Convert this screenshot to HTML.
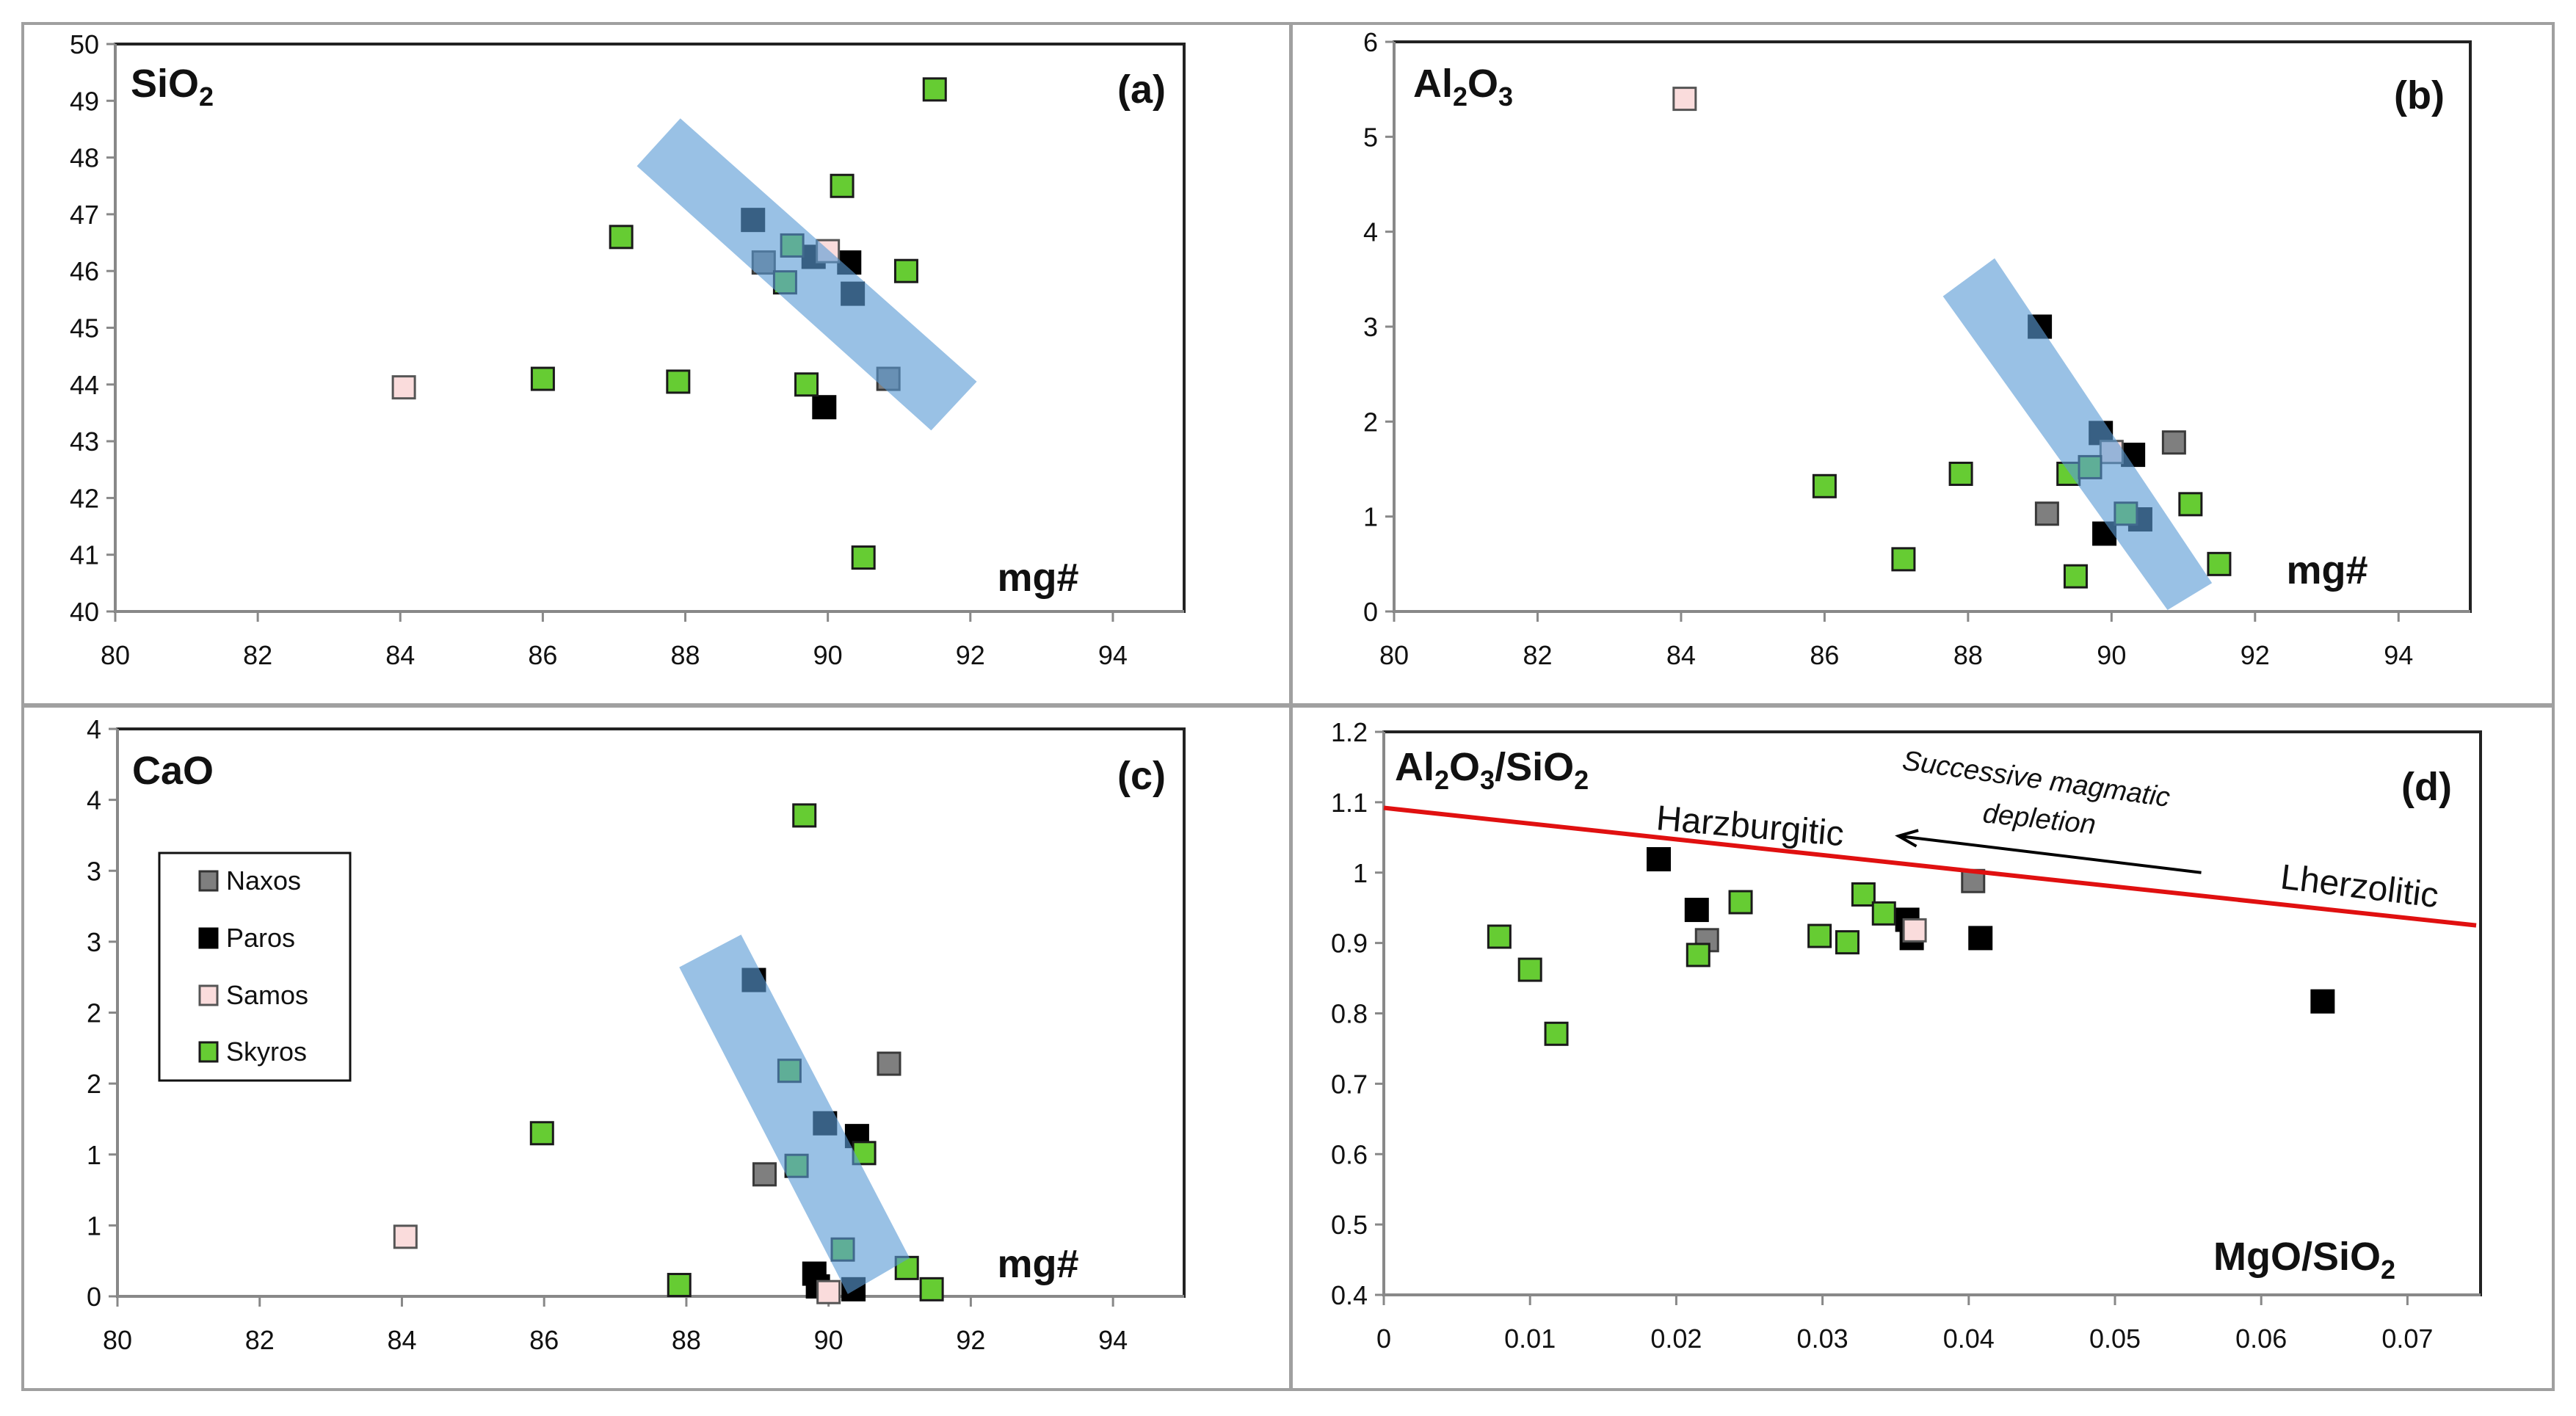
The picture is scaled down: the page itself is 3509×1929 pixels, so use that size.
<!DOCTYPE html>
<html><head><meta charset="utf-8"><style>
html,body{margin:0;padding:0;background:#fff;}
svg{display:block;font-family:"Liberation Sans Narrow","Liberation Sans",sans-serif;}
</style></head><body>
<svg id="fig" width="3509" height="1929" viewBox="0 0 3509 1929" xmlns="http://www.w3.org/2000/svg">
<rect x="0" y="0" width="3509" height="1929" fill="#fff"/>
<rect x="31" y="32" width="1727" height="928" fill="none" stroke="#a0a0a0" stroke-width="4"/>
<rect x="1759" y="32" width="1719" height="928" fill="none" stroke="#a0a0a0" stroke-width="4"/>
<rect x="31" y="962" width="1727" height="931" fill="none" stroke="#a0a0a0" stroke-width="4"/>
<rect x="1759" y="962" width="1719" height="931" fill="none" stroke="#a0a0a0" stroke-width="4"/>
</svg>
<script>
// Panel (a) SiO2 vs mg#
const aNaxosX=[89.1,90.85], aNaxosY=[46.15,44.1];
const aParosX=[90.3,89.95,88.95,89.8,90.35], aParosY=[46.15,43.6,46.9,46.25,45.6];
const aSamosX=[84.05,90.0], aSamosY=[43.95,46.35];
const aSkyrosX=[91.5,90.2,87.1,91.1,86.0,87.9,89.7,90.5,89.5,89.4], aSkyrosY=[49.2,47.5,46.6,46.0,44.1,44.05,44.0,40.95,46.45,45.8];
const aBandX=[87.32,87.93,92.09,91.45], aBandY=[47.85,48.69,44.05,43.19];
const aXTicks=[80,82,84,86,88,90,92,94];
const aYTicks=[40,41,42,43,44,45,46,47,48,49,50];
const aYLabels=["40","41","42","43","44","45","46","47","48","49","50"];
// Panel (b) Al2O3 vs mg#
const bNaxosX=[90.87,89.1], bNaxosY=[1.78,1.03];
const bParosX=[89.9,90.3,89.0,89.85,90.4], bParosY=[0.82,1.65,3.0,1.88,0.97];
const bSamosX=[84.05,90.0], bSamosY=[5.4,1.68];
const bSkyrosX=[86.0,87.9,87.1,89.4,89.5,91.1,91.5,89.7,90.2], bSkyrosY=[1.32,1.45,0.55,1.45,0.37,1.13,0.5,1.52,1.03];
const bBandX=[87.65,88.37,91.40,90.78], bBandY=[3.32,3.72,0.30,0.015];
const bYTicks=[0,1,2,3,4,5,6];
const bYLabels=["0","1","2","3","4","5","6"];
// Panel (c) CaO vs mg#
const cNaxosX=[90.85,89.1], cNaxosY=[1.64,0.86];
const cParosX=[89.8,89.85,90.4,88.95,89.95,90.35], cParosY=[0.16,0.07,1.13,2.23,1.22,0.05];
const cSamosX=[84.05,90.0], cSamosY=[0.42,0.03];
const cSkyrosX=[89.66,85.97,87.9,90.5,91.1,91.45,89.45,89.55,90.2], cSkyrosY=[3.39,1.15,0.08,1.01,0.2,0.05,1.59,0.92,0.33];
const cBandX=[87.9,88.77,91.14,90.27], cBandY=[2.32,2.55,0.27,0.016];
const cYTicks=[0,0.5,1,1.5,2,2.5,3,3.5,4];
const cYLabels=["0","1","1","2","2","3","3","4","4"];
// Panel (d) Al2O3/SiO2 vs MgO/SiO2
const dNaxosX=[0.0221,0.0403], dNaxosY=[0.904,0.988];
const dParosX=[0.0188,0.0214,0.0358,0.0361,0.0408,0.0642], dParosY=[1.019,0.947,0.933,0.907,0.907,0.817];
const dSamosX=[0.0363], dSamosY=[0.918];
const dSkyrosX=[0.0079,0.0100,0.0118,0.0215,0.0244,0.0298,0.0317,0.0328,0.0342], dSkyrosY=[0.909,0.862,0.771,0.883,0.958,0.910,0.901,0.969,0.942];
const dLineX=[0,0.0747], dLineY=[1.092,0.925];
const dArrowX=[0.0559,0.0352], dArrowY=[1.0,1.052];
const dXTicks=[0,0.01,0.02,0.03,0.04,0.05,0.06,0.07];
const dXLabels=["0","0.01","0.02","0.03","0.04","0.05","0.06","0.07"];
const dYTicks=[0.4,0.5,0.6,0.7,0.8,0.9,1.0,1.1,1.2];
const dYLabels=["0.4","0.5","0.6","0.7","0.8","0.9","1","1.1","1.2"];

const NS="http://www.w3.org/2000/svg";
const svg=document.getElementById('fig');
function mk(tag,attrs,parent){const e=document.createElementNS(NS,tag);for(const k in attrs)e.setAttribute(k,attrs[k]);(parent||svg).appendChild(e);return e;}
function scale(d0,d1,p0,p1){return v=>p0+(v-d0)/(d1-d0)*(p1-p0);}

const COLORS={naxos:["#7f7f7f","#3a3a3a"],paros:["#000000","#000000"],samos:["#fadcdc","#555555"],skyros:["#66cc33","#1a1a1a"]};

function drawPanel(p){
  const g=mk('g',{});
  
  
  const sx=scale(p.xd[0],p.xd[1],p.L,p.R), sy=scale(p.yd[0],p.yd[1],p.B,p.T);
  const box=mk('rect',{x:p.L,y:p.T,width:p.R-p.L,height:p.B-p.T,fill:'none',stroke:'#222','stroke-width':4},g);
  
  
  const yax=mk('line',{x1:p.L,y1:p.T,x2:p.L,y2:p.B,stroke:'#888','stroke-width':4},g);
  
  
  const xax=mk('line',{x1:p.L,y1:p.B,x2:p.R,y2:p.B,stroke:'#888','stroke-width':4},g);
  
  
  p.yt.forEach((v,i)=>{const y=sy(v);
    mk('line',{x1:p.L-12,y1:y,x2:p.L,y2:y,stroke:'#888','stroke-width':3},g);
    const t=mk('text',{x:p.L-22,y:y+13,'text-anchor':'end','font-size':36,fill:'#111'},g);
    t.textContent=p.yl[i];
    
    });
  p.xt.forEach((v,i)=>{const x=sx(v);
    mk('line',{x1:x,y1:p.B,x2:x,y2:p.B+14,stroke:'#888','stroke-width':3},g);
    const t=mk('text',{x:x,y:p.B+72,'text-anchor':'middle','font-size':36,fill:'#111'},g);
    t.textContent=p.xl[i];
    
    });
  const ser=[['naxos',p.s.naxos],['paros',p.s.paros],['samos',p.s.samos],['skyros',p.s.skyros]];
  ser.forEach(([nm,[xs,ys]])=>{xs.forEach((xv,i)=>{
    const r=mk('rect',{x:sx(xv)-15,y:sy(ys[i])-15,width:30,height:30,fill:COLORS[nm][0],stroke:COLORS[nm][1],'stroke-width':3},g);
    
    });});
  if(p.band){const pts=p.band[0].map((xv,i)=>sx(xv)+','+sy(p.band[1][i])).join(' ');
    const b=mk('polygon',{points:pts,fill:'rgba(91,155,213,0.62)'},g);
    
    }
  return {sx,sy,g};
}

const mgTicks=aXTicks, mgLabels=aXTicks.map(String);
const pa=drawPanel({id:'panel-a',L:157,R:1613,T:60,B:833,xd:[80,95],yd:[40,50],xt:mgTicks,xl:mgLabels,yt:aYTicks,yl:aYLabels,
  s:{naxos:[aNaxosX,aNaxosY],paros:[aParosX,aParosY],samos:[aSamosX,aSamosY],skyros:[aSkyrosX,aSkyrosY]},band:[aBandX,aBandY]});
const pb=drawPanel({id:'panel-b',L:1899,R:3365,T:57,B:833,xd:[80,95],yd:[0,6],xt:mgTicks,xl:mgLabels,yt:bYTicks,yl:bYLabels,
  s:{naxos:[bNaxosX,bNaxosY],paros:[bParosX,bParosY],samos:[bSamosX,bSamosY],skyros:[bSkyrosX,bSkyrosY]},band:[bBandX,bBandY]});
const pc=drawPanel({id:'panel-c',L:160,R:1613,T:993,B:1766,xd:[80,95],yd:[0,4],xt:mgTicks,xl:mgLabels,yt:cYTicks,yl:cYLabels,
  s:{naxos:[cNaxosX,cNaxosY],paros:[cParosX,cParosY],samos:[cSamosX,cSamosY],skyros:[cSkyrosX,cSkyrosY]},band:[cBandX,cBandY]});
const pd=drawPanel({id:'panel-d',L:1885,R:3379,T:997,B:1764,xd:[0,0.075],yd:[0.4,1.2],xt:dXTicks,xl:dXLabels,yt:dYTicks,yl:dYLabels,
  s:{naxos:[dNaxosX,dNaxosY],paros:[dParosX,dParosY],samos:[dSamosX,dSamosY],skyros:[dSkyrosX,dSkyrosY]},band:null});

// red boundary line & arrow in (d)
const red=mk('line',{x1:pd.sx(dLineX[0]),y1:pd.sy(dLineY[0]),x2:pd.sx(dLineX[1]),y2:pd.sy(dLineY[1]),stroke:'#e01010','stroke-width':6});


const ax1=pd.sx(dArrowX[0]),ay1=pd.sy(dArrowY[0]),ax2=pd.sx(dArrowX[1]),ay2=pd.sy(dArrowY[1]);
const arr=mk('line',{x1:ax1,y1:ay1,x2:ax2,y2:ay2,stroke:'#000','stroke-width':4});


const ang=Math.atan2(ay1-ay2,ax1-ax2);
const h1=[ax2+28*Math.cos(ang+0.4),ay2+28*Math.sin(ang+0.4)],h2=[ax2+28*Math.cos(ang-0.4),ay2+28*Math.sin(ang-0.4)];
const ah=mk('polyline',{points:h1.join(',')+' '+ax2+','+ay2+' '+h2.join(','),fill:'none',stroke:'#000','stroke-width':4});


</script>
<svg style="position:absolute;left:0;top:0" width="3509" height="1929" viewBox="0 0 3509 1929" xmlns="http://www.w3.org/2000/svg" font-family="Liberation Sans Narrow, Liberation Sans, sans-serif">
<g font-weight="bold" fill="#111" font-size="54">
<text x="178" y="132">SiO<tspan font-size="36" dy="12">2</tspan></text>
<text x="1588" y="140" text-anchor="end">(a)</text>
<text x="1414" y="805" text-anchor="middle">mg#</text>
<text x="1925" y="132">Al<tspan font-size="36" dy="12">2</tspan><tspan dy="-12">O</tspan><tspan font-size="36" dy="12">3</tspan></text>
<text x="3330" y="148" text-anchor="end">(b)</text>
<text x="3170" y="795" text-anchor="middle">mg#</text>
<text x="180" y="1068">CaO</text>
<text x="1588" y="1075" text-anchor="end">(c)</text>
<text x="1414" y="1740" text-anchor="middle">mg#</text>
<text x="1900" y="1063">Al<tspan font-size="36" dy="12">2</tspan><tspan dy="-12">O</tspan><tspan font-size="36" dy="12">3</tspan><tspan dy="-12">/SiO</tspan><tspan font-size="36" dy="12">2</tspan></text>
<text x="3340" y="1090" text-anchor="end">(d)</text>
<text x="3015" y="1730">MgO/SiO<tspan font-size="36" dy="12">2</tspan></text>
</g>
<g fill="#111">
<text x="2255" y="1130" font-size="48" transform="rotate(5 2255 1130)">Harzburgitic</text>
<text x="3105" y="1210" font-size="48" transform="rotate(7 3105 1210)">Lherzolitic</text>
<text x="2590" y="1048" font-size="38" font-style="italic" transform="rotate(8 2590 1048)">Successive magmatic</text>
<text x="2700" y="1120" font-size="38" font-style="italic" transform="rotate(6 2700 1120)">depletion</text>
</g>
<g>
<rect x="217" y="1162" width="260" height="310" fill="#fff" stroke="#111" stroke-width="3"/>
<rect x="272" y="1187" width="24" height="26" fill="#7f7f7f" stroke="#333" stroke-width="3"/>
<text x="308" y="1212" font-size="36" fill="#111">Naxos</text>
<rect x="272" y="1265" width="24" height="26" fill="#000" stroke="#000" stroke-width="3"/>
<text x="308" y="1290" font-size="36" fill="#111">Paros</text>
<rect x="272" y="1343" width="24" height="26" fill="#fadcdc" stroke="#555" stroke-width="3"/>
<text x="308" y="1368" font-size="36" fill="#111">Samos</text>
<rect x="272" y="1420" width="24" height="26" fill="#66cc33" stroke="#1a1a1a" stroke-width="3"/>
<text x="308" y="1445" font-size="36" fill="#111">Skyros</text>
</g>
</svg>
</body></html>
